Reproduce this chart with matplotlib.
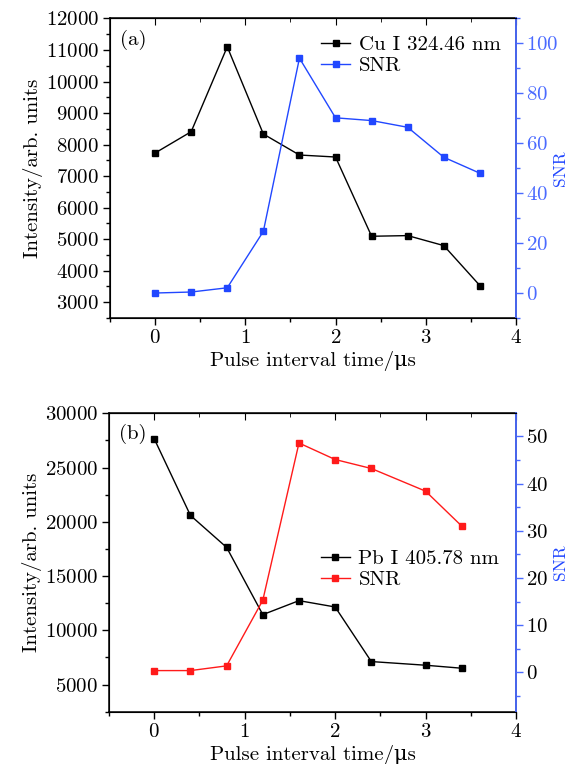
import matplotlib
matplotlib.use('Agg')
import matplotlib.pyplot as plt
from matplotlib.ticker import MultipleLocator

plt.rcParams['font.family'] = ['cmr10', 'DejaVu Serif']
plt.rcParams['mathtext.fontset'] = 'cm'
plt.rcParams['axes.formatter.use_mathtext'] = True
plt.rcParams['font.size'] = 15

BLUE = '#2147ff'
SPINE_BLUE = '#4a6aff'
RED = '#ff1a1a'

# (a) Cu I 324.46 nm
time_a = [0, 0.4, 0.8, 1.2, 1.6, 2.0, 2.4, 2.8, 3.2, 3.6]
cu_intensity = [7733, 8409, 11102, 8335, 7669, 7606, 5092, 5113, 4796, 3528]
cu_snr = [0.0, 0.4, 2.1, 24.7, 94.1, 70.2, 69.1, 66.4, 54.4, 48.0]

# (b) Pb I 405.78 nm
time_b = [0, 0.4, 0.8, 1.2, 1.6, 2.0, 2.4, 3.0, 3.4]
pb_intensity = [27638, 20583, 17638, 11442, 12730, 12147, 7117, 6779, 6503]
pb_snr = [0.4, 0.4, 1.4, 15.3, 48.6, 45.1, 43.2, 38.4, 31.0]


def style_axes(ax, ax2, ymaj, ymin, rmaj, rmin, right_label_color):
    ax.set_xlim(-0.5, 4)
    ax.xaxis.set_major_locator(MultipleLocator(1))
    ax.xaxis.set_minor_locator(MultipleLocator(0.5))
    ax.yaxis.set_major_locator(MultipleLocator(ymaj))
    ax.yaxis.set_minor_locator(MultipleLocator(ymin))
    ax.tick_params(axis='both', which='both', direction='out', width=1,
                   pad=3)
    ax.tick_params(which='major', length=5)
    ax.tick_params(which='minor', length=3)
    # top ticks point inward
    sec = ax.secondary_xaxis('top')
    sec.tick_params(axis='x', which='both', direction='in', labeltop=False)
    sec.xaxis.set_major_locator(MultipleLocator(1))
    sec.xaxis.set_minor_locator(MultipleLocator(0.5))
    sec.tick_params(which='major', length=5)
    sec.tick_params(which='minor', length=3)
    ax.tick_params(axis='x', which='both', top=False)
    for s in ax.spines.values():
        s.set_linewidth(1.1)
    ax.set_xlabel('Pulse interval time/μs', labelpad=3)
    ax.set_ylabel('Intensity/arb. units', labelpad=2)

    ax2.yaxis.set_major_locator(MultipleLocator(rmaj))
    ax2.yaxis.set_minor_locator(MultipleLocator(rmin))
    ax2.spines['right'].set_color(SPINE_BLUE)
    ax2.spines['right'].set_linewidth(1.3)
    ax2.tick_params(axis='y', which='both', direction='out', colors=SPINE_BLUE,
                    labelcolor=right_label_color, width=1, pad=2)
    ax2.tick_params(which='major', length=5)
    ax2.tick_params(which='minor', length=3)
    ax2.set_ylabel('SNR', color=BLUE, fontsize=12.5)
    ax2.yaxis.set_label_coords(1.09, 0.5)


fig = plt.figure(figsize=(5.74, 7.64), dpi=100)

# panel (a)
ax_a = fig.add_axes([0.1916, 0.5838, 0.7073, 0.392])
ax_a2 = ax_a.twinx()
l1, = ax_a.plot(time_a, cu_intensity, color='black', lw=1, marker='s',
                markersize=5, label='Cu I 324.46 nm')
l2, = ax_a2.plot(time_a, cu_snr, color=BLUE, lw=1, marker='s',
                 markersize=5, label='SNR')
ax_a.set_ylim(2500, 12000)
ax_a2.set_ylim(-10, 110)
style_axes(ax_a, ax_a2, 1000, 500, 20, 10, SPINE_BLUE)
ax_a.text(0.025, 0.93, '(a)', transform=ax_a.transAxes, va='center',
          ha='left')
ax_a2.legend([l1, l2], ['Cu I 324.46 nm', 'SNR'], loc='upper left',
             bbox_to_anchor=(0.5, 0.97), frameon=False, handlelength=1.4,
             handletextpad=0.4, markerscale=0.8, labelspacing=0.1,
             borderaxespad=0)

# panel (b)
ax_b = fig.add_axes([0.19, 0.0685, 0.709, 0.3906])
ax_b2 = ax_b.twinx()
l3, = ax_b.plot(time_b, pb_intensity, color='black', lw=1, marker='s',
                markersize=5, label='Pb I 405.78 nm')
l4, = ax_b2.plot(time_b, pb_snr, color=RED, lw=1, marker='s',
                 markersize=5, label='SNR')
ax_b.set_ylim(2500, 30000)
ax_b2.set_ylim(-8.3, 54.9)
style_axes(ax_b, ax_b2, 5000, 2500, 10, 5, 'black')
ax_b.text(0.025, 0.93, '(b)', transform=ax_b.transAxes, va='center',
          ha='left')
ax_b2.legend([l3, l4], ['Pb I 405.78 nm', 'SNR'], loc='upper left',
             bbox_to_anchor=(0.5, 0.57), frameon=False, handlelength=1.4,
             handletextpad=0.4, markerscale=0.8, labelspacing=0.1,
             borderaxespad=0)

fig.savefig('out.png', dpi=100)
